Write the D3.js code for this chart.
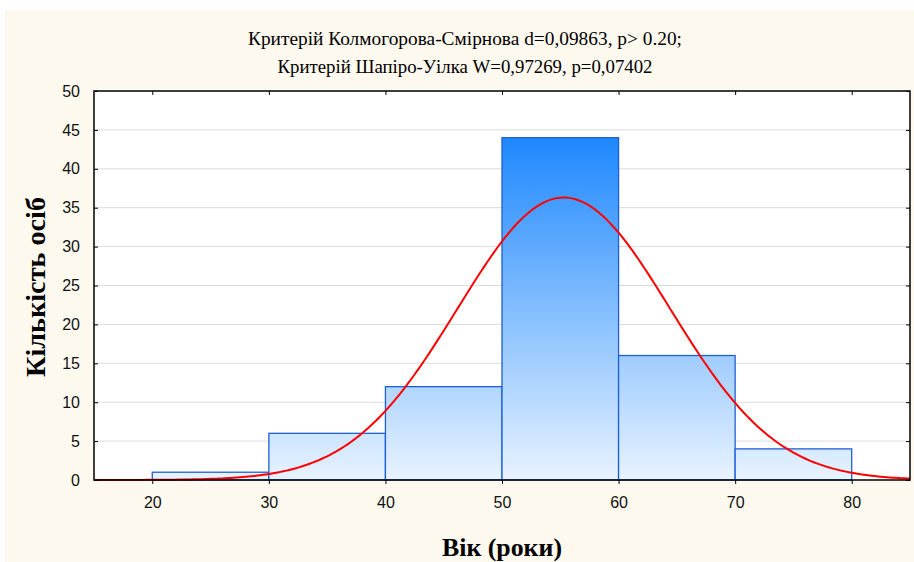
<!DOCTYPE html>
<html>
<head>
<meta charset="utf-8">
<script src="https://cdn.jsdelivr.net/npm/d3@7"></script>
<style>
  html, body { margin: 0; padding: 0; background: #ffffff; }
  svg { display: block; }
</style>
</head>
<body>
<svg id="chart" width="914" height="562"></svg>
<script>
// Age histogram (bins of 10 years) with fitted normal curve
const binStarts = [20, 30, 40, 50, 60, 70];
const binWidth = 10;
const counts = [1, 6, 12, 44, 16, 4];
const xTicks = [20, 30, 40, 50, 60, 70, 80];
const yTicks = [0, 5, 10, 15, 20, 25, 30, 35, 40, 45, 50];
const titleLines = [
  "Критерій Колмогорова-Смірнова d=0,09863, p> 0.20;",
  "Критерій Шапіро-Уілка W=0,97269, p=0,07402"
];
// fitted normal parameters
const fitMean = 55.3;
const fitSd = 9.12;

const svg = d3.select("#chart");
const W = 914, H = 562;
const plot = { left: 94, right: 910, top: 91, bottom: 480 };

// panel background
svg.append("rect").attr("x", 5).attr("y", 10).attr("width", W - 5).attr("height", H - 10)
  .attr("fill", "#fdf9ef");
svg.append("rect").attr("x", plot.left).attr("y", plot.top)
  .attr("width", plot.right - plot.left).attr("height", plot.bottom - plot.top)
  .attr("fill", "#ffffff");

const x = d3.scaleLinear().domain([15, 85]).range([plot.left, plot.right]);
const y = d3.scaleLinear().domain([0, 50]).range([plot.bottom, plot.top]);

// gridlines
svg.append("g").selectAll("line").data(yTicks.filter(d => d > 0 && d < 50)).join("line")
  .attr("x1", plot.left).attr("x2", plot.right)
  .attr("y1", d => y(d)).attr("y2", d => y(d))
  .attr("stroke", "#dcdcdc").attr("stroke-width", 1);

// bar gradient tied to the value scale
const defs = svg.append("defs");
const grad = defs.append("linearGradient").attr("id", "barGrad")
  .attr("gradientUnits", "userSpaceOnUse")
  .attr("x1", 0).attr("x2", 0).attr("y1", y(44)).attr("y2", y(0));
grad.append("stop").attr("offset", "0%").attr("stop-color", "#1e88ff");
grad.append("stop").attr("offset", "100%").attr("stop-color", "#e8f3ff");

const bins = binStarts.map((s, i) => ({ x0: s, x1: s + binWidth, n: counts[i] }));
svg.append("g").selectAll("rect").data(bins).join("rect")
  .attr("x", d => x(d.x0)).attr("width", d => x(d.x1) - x(d.x0))
  .attr("y", d => y(d.n)).attr("height", d => y(0) - y(d.n))
  .attr("fill", "url(#barGrad)")
  .attr("stroke", "#1f5fd6").attr("stroke-width", 1.3);

// fitted normal curve: N * binWidth * pdf
const total = d3.sum(counts);
const curveXs = d3.range(15, 85.001, 0.25);
const pdf = v => Math.exp(-0.5 * ((v - fitMean) / fitSd) ** 2) / (fitSd * Math.sqrt(2 * Math.PI));
const curveData = curveXs.map(v => [v, total * binWidth * pdf(v)]);
svg.append("path").datum(curveData)
  .attr("fill", "none").attr("stroke", "#ff0000").attr("stroke-width", 2)
  .attr("d", d3.line().x(d => x(d[0])).y(d => y(d[1])));

// axes
const axisFont = "'Liberation Sans', Arial, sans-serif";
const gx = svg.append("g").attr("transform", `translate(0,${plot.bottom})`)
  .call(d3.axisBottom(x).tickValues(xTicks).tickSize(4).tickPadding(13).tickFormat(d3.format("d")));
const gy = svg.append("g").attr("transform", `translate(${plot.left},0)`)
  .call(d3.axisLeft(y).tickValues(yTicks).tickSize(-4).tickPadding(14).tickFormat(d3.format("d")));
const gxTop = svg.append("g").attr("transform", `translate(0,${plot.top})`)
  .call(d3.axisTop(x).tickValues(xTicks).tickSize(-4).tickFormat(""));
const gyRight = svg.append("g").attr("transform", `translate(${plot.right},0)`)
  .call(d3.axisRight(y).tickValues(yTicks).tickSize(-4).tickFormat(""));
[gx, gy, gxTop, gyRight].forEach(g => {
  g.select(".domain").remove();
  g.selectAll(".tick line").attr("stroke", "#000").attr("stroke-width", 1);
  g.selectAll("text").attr("fill", "#111").style("font-family", axisFont).style("font-size", "16px");
});

// frame
svg.append("rect").attr("x", plot.left).attr("y", plot.top)
  .attr("width", plot.right - plot.left).attr("height", plot.bottom - plot.top)
  .attr("fill", "none").attr("stroke", "#000").attr("stroke-width", 1.5);

// titles
const serif = "'Liberation Serif', 'Times New Roman', serif";
const titleWidths = [434, 375];
svg.append("g").selectAll("text").data(titleLines).join("text")
  .attr("x", 465).attr("y", (d, i) => 45 + i * 28)
  .attr("text-anchor", "middle")
  .attr("textLength", (d, i) => titleWidths[i]).attr("lengthAdjust", "spacingAndGlyphs")
  .style("font-family", serif).style("font-size", "19px").attr("fill", "#000")
  .text(d => d);

svg.append("text").attr("x", 502).attr("y", 556).attr("text-anchor", "middle")
  .attr("textLength", 120).attr("lengthAdjust", "spacingAndGlyphs")
  .style("font-family", serif).style("font-size", "26px").style("font-weight", "bold")
  .text("Вік (роки)");

svg.append("text").attr("transform", "translate(45,287) rotate(-90)").attr("text-anchor", "middle")
  .attr("textLength", 180).attr("lengthAdjust", "spacingAndGlyphs")
  .style("font-family", serif).style("font-size", "27px").style("font-weight", "bold")
  .text("Кількість осіб");
</script>
</body>
</html>
